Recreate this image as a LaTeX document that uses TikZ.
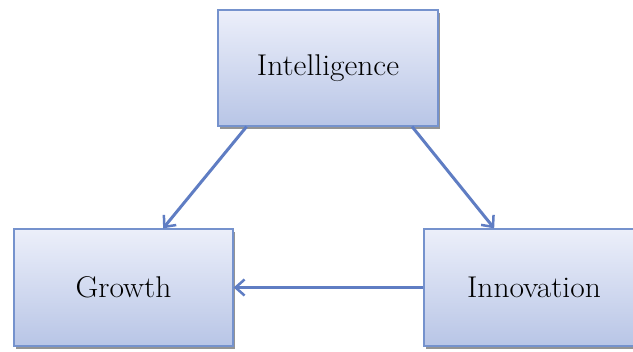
\documentclass[tikz,border=0pt]{standalone}
\usepackage{fontspec}
\setmainfont[FakeStretch=1.05]{Latin Modern Roman}
\usetikzlibrary{arrows.meta,shadows,calc}
\definecolor{boxtop}{HTML}{ECEFFA}
\definecolor{boxbot}{HTML}{B8C5E6}
\definecolor{boxline}{HTML}{7592CD}
\definecolor{arrowc}{HTML}{5F7DC3}
\tikzset{
  boxnode/.style={rectangle, draw=boxline, line width=1.3pt, top color=boxtop, bottom color=boxbot,
    drop shadow={shadow xshift=1.5pt, shadow yshift=-3pt, opacity=0.6, fill=black!70},
    font=\fontsize{30}{36}\selectfont, text=black},
  conn/.style={draw=arrowc, line width=3pt, -{Straight Barb[length=9pt,width=16pt,line width=2.5pt]}}
}
\begin{document}
\begin{tikzpicture}[x=1pt,y=-1pt]
\useasboundingbox (0,0) rectangle (633,352);
\clip (0,0) rectangle (633,352);
\node[boxnode, minimum width=220pt, minimum height=116pt] (intel) at (328,68) {Intelligence};
\node[boxnode, minimum width=219pt, minimum height=117pt] (growth) at (123.5,287.5) {Growth};
\node[boxnode, minimum width=220pt, minimum height=117pt] (innov) at (534,287.5) {Innovation};
\draw[conn] ($(intel.south west)!0.132!(intel.south east)$) -- ($(growth.north west)!0.68!(growth.north east)$);
\draw[conn] ($(intel.south west)!0.88!(intel.south east)$) -- ($(innov.north west)!0.32!(innov.north east)$);
\draw[conn] (innov.west) -- (growth.east);
\end{tikzpicture}
\end{document}
